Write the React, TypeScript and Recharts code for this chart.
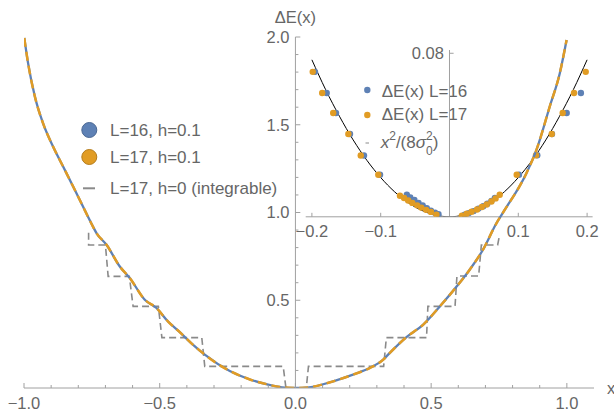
import React from 'react';
import { ComposedChart, Line, Scatter, XAxis, YAxis, ReferenceLine, ReferenceDot } from 'recharts';

const W = 614;
const H = 418;
const FONT = '"Liberation Sans", Arial, sans-serif';
const BLUE = '#5e81b5';
const ORANGE = '#e19c24';
const STEP_GRAY = '#8a8a8a';
const AXIS_GRAY = '#a0a0a0';
const TEXT_GRAY = '#666666';

// main panel: Delta E(x), L=16 / L=17 at h=0.1, and the integrable staircase
const CURVE_L16 = [
  [-0.999, 1.995], [-0.985, 1.851], [-0.96, 1.661], [-0.93, 1.509], [-0.893, 1.376],
  [-0.856, 1.262], [-0.819, 1.148], [-0.789, 1.054], [-0.746, 0.92], [-0.733, 0.883],
  [-0.696, 0.816], [-0.647, 0.692], [-0.61, 0.626], [-0.555, 0.503], [-0.512, 0.456],
  [-0.47, 0.38], [-0.426, 0.318], [-0.38, 0.25], [-0.334, 0.19], [-0.242, 0.097],
  [-0.17, 0.05], [-0.107, 0.022], [-0.05, 0.004], [0, 0], [0.05, 0.004],
  [0.139, 0.038], [0.212, 0.076], [0.275, 0.115], [0.323, 0.161], [0.347, 0.199],
  [0.409, 0.29], [0.47, 0.36], [0.532, 0.465], [0.599, 0.588], [0.642, 0.674],
  [0.691, 0.788], [0.741, 0.94], [0.765, 1.0], [0.851, 1.224], [0.888, 1.357],
  [0.937, 1.604], [0.974, 1.794], [0.999, 1.983],
];
const CURVE_L17 = [
  [-0.999, 1.995], [-0.985, 1.851], [-0.96, 1.661], [-0.93, 1.509], [-0.893, 1.376],
  [-0.856, 1.262], [-0.819, 1.148], [-0.789, 1.054], [-0.746, 0.92], [-0.733, 0.883],
  [-0.696, 0.816], [-0.647, 0.692], [-0.61, 0.626], [-0.555, 0.503], [-0.512, 0.456],
  [-0.47, 0.38], [-0.426, 0.318], [-0.38, 0.25], [-0.334, 0.19], [-0.242, 0.097],
  [-0.17, 0.05], [-0.107, 0.022], [-0.05, 0.004], [0, 0], [0.05, 0.004],
  [0.139, 0.038], [0.212, 0.076], [0.275, 0.115], [0.323, 0.161], [0.347, 0.199],
  [0.409, 0.29], [0.47, 0.36], [0.532, 0.465], [0.599, 0.588], [0.642, 0.674],
  [0.691, 0.788], [0.741, 0.94], [0.765, 1.0], [0.851, 1.224], [0.888, 1.357],
  [0.937, 1.604], [0.974, 1.794], [0.999, 1.983],
];
const STEPS_L17_H0 = [
  [-0.762, 0.885], [-0.762, 0.815], [-0.7, 0.815], [-0.69, 0.636], [-0.612, 0.636],
  [-0.598, 0.465], [-0.505, 0.465], [-0.492, 0.287], [-0.345, 0.287], [-0.334, 0.123],
  [-0.045, 0.123], [-0.035, 0], [0.04, 0], [0.048, 0.123], [0.325, 0.123],
  [0.335, 0.287], [0.483, 0.287], [0.488, 0.465], [0.588, 0.465], [0.595, 0.638],
  [0.675, 0.638], [0.685, 0.815], [0.745, 0.815], [0.752, 0.87],
];

const MAIN_X_TICKS = [
  -1, -0.9, -0.8, -0.7, -0.6, -0.5, -0.4, -0.3, -0.2, -0.1, 0,
  0.1, 0.2, 0.3, 0.4, 0.5, 0.6, 0.7, 0.8, 0.9, 1,
];
const MAIN_X_LABELED = [-1, -0.5, 0, 0.5, 1];
const MAIN_Y_TICKS = [0.1, 0.2, 0.3, 0.4, 0.5, 0.6, 0.7, 0.8, 0.9, 1, 1.1, 1.2, 1.3, 1.4, 1.5, 1.6, 1.7, 1.8, 1.9, 2];
const MAIN_Y_LABELED = [0.5, 1, 1.5, 2];

// inset: small-x region
const INSET_L16 = [
  [-0.1955, 0.0709], [-0.1785, 0.0606], [-0.165, 0.0508], [-0.1446, 0.0405], [-0.1243, 0.03],
  [-0.101, 0.0206], [-0.062, 0.0108], [-0.057, 0.0095], [-0.051, 0.0082], [-0.045, 0.0068],
  [-0.039, 0.0055], [-0.033, 0.0042], [-0.027, 0.003], [-0.021, 0.002], [-0.016, 0.0013],
  [0.022, 0.001], [0.028, 0.0018], [0.035, 0.0028], [0.042, 0.004], [0.049, 0.0052],
  [0.055, 0.0064], [0.061, 0.0078], [0.066, 0.0092], [0.101, 0.0206], [0.1276, 0.0301],
  [0.149, 0.0405], [0.1703, 0.0508], [0.191, 0.0606],
];
const INSET_L17 = [
  [-0.1988, 0.0709], [-0.185, 0.0606], [-0.169, 0.0508], [-0.147, 0.0405], [-0.129, 0.03],
  [-0.1035, 0.0206], [-0.072, 0.0103], [-0.066, 0.0092], [-0.06, 0.008], [-0.054, 0.0068],
  [-0.047, 0.0056], [-0.041, 0.0045], [-0.034, 0.0034], [-0.027, 0.0024], [-0.019, 0.001],
  [0.018, 0.0005], [0.025, 0.0015], [0.032, 0.0025], [0.04, 0.0036], [0.047, 0.0048],
  [0.054, 0.006], [0.061, 0.0075], [0.067, 0.009], [0.073, 0.0108], [0.0977, 0.0206],
  [0.1257, 0.0301], [0.1486, 0.0405], [0.1645, 0.0508], [0.181, 0.0606], [0.198, 0.0709],
];
const INSET_FIT = [
  [-0.2, 0.0768], [-0.18, 0.0622], [-0.16, 0.0492], [-0.14, 0.0376], [-0.12, 0.0276],
  [-0.1, 0.0192], [-0.08, 0.0123], [-0.06, 0.0069], [-0.04, 0.0031], [-0.02, 0.0008],
  [0, 0], [0.02, 0.0008], [0.04, 0.0031], [0.06, 0.0069], [0.08, 0.0123],
  [0.1, 0.0192], [0.12, 0.0276], [0.14, 0.0376], [0.16, 0.0492], [0.18, 0.0622], [0.2, 0.0768],
];
const INSET_X_TICKS = [-0.2, -0.1, 0.1, 0.2];
const INSET_Y_TICKS = [0.08];

const toPts = (arr: number[][]) => arr.map(([x, y]) => ({ x, y }));
const fmt = (v: number, d = 1) => v.toFixed(d).replace('-', '\u2212');

const textStyle = { fontFamily: FONT, fill: TEXT_GRAY };

function MainXTick(props: any) {
  const { x, y, payload } = props;
  const v = payload.value;
  const major = MAIN_X_LABELED.some((m) => Math.abs(m - v) < 1e-9);
  return (
    <g>
      <line x1={x} x2={x} y1={y} y2={y - (major ? 5 : 3)} stroke={AXIS_GRAY} />
      {major && (
        <text x={x} y={y + 15} textAnchor="middle" dominantBaseline="central" fontSize={16.5} style={textStyle}>
          {fmt(v)}
        </text>
      )}
    </g>
  );
}

function InsetXTick(props: any) {
  const { x, y, payload } = props;
  return (
    <g>
      <line x1={x} x2={x} y1={y} y2={y - 4} stroke={AXIS_GRAY} />
      <text x={x} y={y + 14} textAnchor="middle" dominantBaseline="central" fontSize={16.5} style={textStyle}>
        {fmt(payload.value)}
      </text>
    </g>
  );
}

function Legends() {
  return (
    <svg width={W} height={H} style={{ position: 'absolute', left: 0, top: 0 }}>
      <g fontFamily={FONT} fontSize={17} fill={TEXT_GRAY}>
        <circle cx={89.3} cy={130} r={7.5} fill={BLUE} stroke="#4b6894" strokeWidth={1} />
        <text x={110} y={130} dominantBaseline="central">L=16, h=0.1</text>
        <circle cx={89.3} cy={157} r={7.5} fill={ORANGE} stroke="#b57d1c" strokeWidth={1} />
        <text x={110} y={157} dominantBaseline="central">L=17, h=0.1</text>
        <line x1={83} x2={95} y1={188.3} y2={188.3} stroke={STEP_GRAY} strokeWidth={2} />
        <text x={110} y={188} dominantBaseline="central">L=17, h=0 (integrable)</text>

        <circle cx={367.3} cy={90} r={3.2} fill={BLUE} />
        <text x={381.7} y={91} dominantBaseline="central">ΔE(x) L=16</text>
        <circle cx={367.3} cy={115} r={3.2} fill={ORANGE} />
        <text x={381.7} y={114} dominantBaseline="central">ΔE(x) L=17</text>
        <line x1={365.5} x2={369} y1={143} y2={143} stroke={STEP_GRAY} strokeWidth={1} />
        <text x={380.7} y={148}>
          <tspan fontStyle="italic">x</tspan>
          <tspan dy={-8} fontSize={12}>2</tspan>
          <tspan dy={8}>/(8</tspan>
          <tspan fontStyle="italic">σ</tspan>
          <tspan dy={7} fontSize={12}>0</tspan>
          <tspan dx={-6.7} dy={-15} fontSize={12}>2</tspan>
          <tspan dy={8}>)</tspan>
        </text>
      </g>
    </svg>
  );
}

function InsetChart() {
  return (
    <div style={{ position: 'absolute', left: 0, top: 0 }}>
      <ComposedChart width={W} height={H} margin={{ top: 50, right: 21.4, bottom: 171.2, left: 305.7 }}>
        <XAxis
          type="number"
          dataKey="x"
          domain={[-0.209, 0.208]}
          allowDataOverflow
          ticks={INSET_X_TICKS}
          interval={0}
          height={30}
          tickSize={0}
          tickMargin={0}
          tickLine={false}
          axisLine={{ stroke: AXIS_GRAY }}
          tick={<InsetXTick />}
        />
        <YAxis type="number" dataKey="y" domain={[0, 0.0816]} allowDataOverflow hide />
        <ReferenceLine x={0} stroke={AXIS_GRAY} />
        {INSET_Y_TICKS.map((v) => (
          <ReferenceLine
            key={v}
            segment={[{ x: 0, y: v }, { x: 0.006, y: v }]}
            stroke={AXIS_GRAY}
            label={{ value: fmt(v, 2), position: 'left', offset: 5.5, fontSize: 16.5, fill: TEXT_GRAY, fontFamily: FONT }}
          />
        ))}
        <Line data={toPts(INSET_FIT)} dataKey="y" type="monotone" stroke="#000" strokeWidth={1} dot={false} isAnimationActive={false} />
        <Scatter
          data={toPts(INSET_L16)}
          fill={BLUE}
          isAnimationActive={false}
          shape={(p: any) => <circle cx={p.cx} cy={p.cy} r={3.2} fill={BLUE} />}
        />
        <Scatter
          data={toPts(INSET_L17)}
          fill={ORANGE}
          isAnimationActive={false}
          shape={(p: any) => <circle cx={p.cx} cy={p.cy} r={3.2} fill={ORANGE} />}
        />
      </ComposedChart>
    </div>
  );
}

function MainChart() {
  return (
    <div style={{ position: 'absolute', left: 0, top: 0 }}>
      <ComposedChart width={W} height={H} margin={{ top: 37, right: 20, bottom: 0, left: 24 }}>
        <XAxis
          type="number"
          dataKey="x"
          domain={[-1, 1.1]}
          allowDataOverflow
          ticks={MAIN_X_TICKS}
          interval={0}
          height={30}
          tickSize={0}
          tickMargin={0}
          tickLine={false}
          axisLine={{ stroke: AXIS_GRAY }}
          tick={<MainXTick />}
        />
        <YAxis type="number" dataKey="y" domain={[0, 2]} allowDataOverflow hide />
        <ReferenceLine
          x={0}
          stroke={AXIS_GRAY}
          label={{ value: 'ΔE(x)', position: 'top', offset: 14, fontSize: 16.5, fill: TEXT_GRAY, fontFamily: FONT }}
        />
        {MAIN_Y_TICKS.map((v) => {
          const major = MAIN_Y_LABELED.some((m) => Math.abs(m - v) < 1e-9);
          return (
            <ReferenceLine
              key={v}
              segment={[{ x: 0, y: v }, { x: major ? 0.018 : 0.011, y: v }]}
              stroke={AXIS_GRAY}
              label={major ? { value: fmt(v), position: 'left', offset: 6, fontSize: 16.5, fill: TEXT_GRAY, fontFamily: FONT } : undefined}
            />
          );
        })}
        <ReferenceDot
          x={1.1}
          y={0}
          r={0}
          stroke="none"
          label={{ value: 'x', position: 'right', offset: 13, fontSize: 16.5, fill: TEXT_GRAY, fontFamily: FONT }}
        />
        <Line
          data={toPts(STEPS_L17_H0)}
          dataKey="y"
          type="linear"
          stroke={STEP_GRAY}
          strokeWidth={1.6}
          strokeDasharray="7 4"
          dot={false}
          isAnimationActive={false}
        />
        <Line data={toPts(CURVE_L16)} dataKey="y" type="monotone" stroke={BLUE} strokeWidth={2.3} dot={false} isAnimationActive={false} />
        <Line
          data={toPts(CURVE_L17)}
          dataKey="y"
          type="monotone"
          stroke={ORANGE}
          strokeWidth={2.5}
          strokeDasharray="9 5"
          dot={false}
          isAnimationActive={false}
        />
      </ComposedChart>
    </div>
  );
}

export default function App() {
  return (
    <div style={{ position: 'absolute', left: 0, top: 0, width: W, height: H, background: '#fff' }}>
      <Legends />
      <InsetChart />
      <MainChart />
    </div>
  );
}
